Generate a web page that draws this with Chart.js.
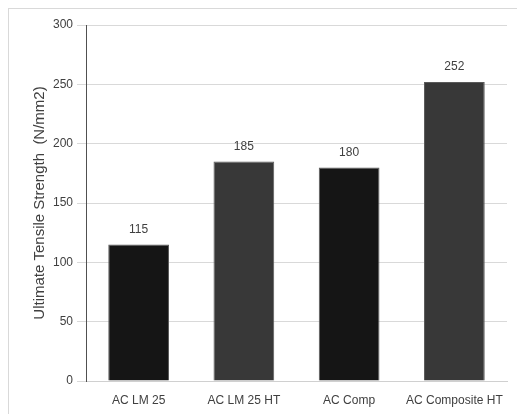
<!DOCTYPE html>
<html>
<head>
<meta charset="utf-8">
<script src="https://cdn.jsdelivr.net/npm/chart.js@4"></script>
<style>
  html, body { margin: 0; padding: 0; background: #ffffff; }
  #frame {
    position: absolute; left: 8px; top: 8px; width: 540px; height: 440px;
    border-left: 1px solid #d9d9d9; border-top: 1px solid #d9d9d9;
  }
  #wrap { position: absolute; left: 0; top: 0; width: 517px; height: 414px; }
</style>
</head>
<body>
<div id="frame"></div>
<div id="wrap"><canvas id="utsChart"></canvas></div>
<script>
  const categories = ['AC LM 25', 'AC LM 25 HT', 'AC Comp', 'AC Composite HT'];
  const strengthValues = [115, 185, 180, 252];
  const barColors = ['#151515', '#383838', '#151515', '#383838'];
  const yTicks = [0, 50, 100, 150, 200, 250, 300];

  // value printed above each bar
  const barLabels = {
    id: 'barLabels',
    afterDatasetsDraw(chart) {
      const ctx = chart.ctx;
      const meta = chart.getDatasetMeta(0);
      ctx.save();
      ctx.font = '12px "Liberation Sans", Arial, sans-serif';
      ctx.fillStyle = '#404040';
      ctx.textAlign = 'center';
      ctx.textBaseline = 'bottom';
      meta.data.forEach((bar, i) => {
        ctx.fillText(String(strengthValues[i]), bar.x, bar.y - 9);
      });
      ctx.restore();
    }
  };

  const ctx = document.getElementById('utsChart');

  new Chart(ctx, {
    type: 'bar',
    data: {
      labels: categories,
      datasets: [{
        data: strengthValues,
        backgroundColor: barColors,
        borderColor: '#5a5a5a',
        borderWidth: 1,
        categoryPercentage: 1,
        barPercentage: 0.577
      }]
    },
    plugins: [barLabels],
    options: {
      responsive: true,
      maintainAspectRatio: false,
      animation: false,
      layout: {
        padding: { left: 28, top: 25, right: 10, bottom: 0 }
      },
      plugins: {
        legend: { display: false },
        tooltip: { enabled: false }
      },
      scales: {
        x: {
          afterFit(scale) { scale.height = 33; },
          grid: { display: false, drawTicks: false },
          border: { display: true, color: '#d0d0d0', width: 1 },
          ticks: {
            color: '#404040',
            padding: 12,
            maxRotation: 0,
            font: { family: '"Liberation Sans", Arial, sans-serif', size: 12 }
          }
        },
        y: {
          min: 0,
          max: 300,
          afterFit(scale) { scale.width = 58; },
          afterBuildTicks(scale) {
            scale.ticks = yTicks.map(v => ({ value: v }));
          },
          grid: {
            color: '#d9d9d9',
            drawTicks: true,
            tickLength: 9
          },
          border: { display: true, color: '#505050', width: 1 },
          ticks: {
            color: '#404040',
            padding: 4,
            font: { family: '"Liberation Sans", Arial, sans-serif', size: 12 }
          },
          title: {
            display: true,
            text: 'Ultimate Tensile Strength  (N/mm2)',
            color: '#404040',
            padding: { top: 3, bottom: 0 },
            font: { family: '"Liberation Sans", Arial, sans-serif', size: 15 }
          }
        }
      }
    }
  });
</script>
</body>
</html>
